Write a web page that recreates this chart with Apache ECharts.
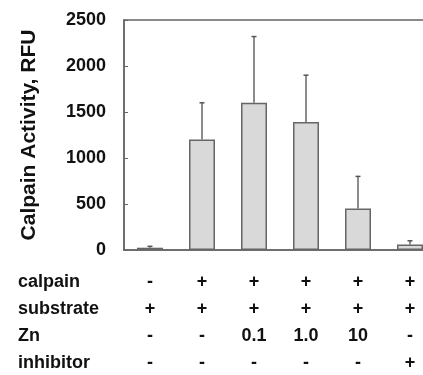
<!DOCTYPE html>
<html><head><meta charset="utf-8">
<script src="https://cdn.jsdelivr.net/npm/echarts@6/dist/echarts.min.js"></script>
<style>html,body{margin:0;padding:0;background:#fff}#c{width:423px;height:375px}</style>
</head><body><div id="c"></div>
<script>
var categories = ['1','2','3','4','5','6'];
var values = [25, 1200, 1600, 1390, 450, 60];
var errorUpper = [40, 1600, 2320, 1900, 800, 100];
var yTicks = [0, 500, 1000, 1500, 2000, 2500];
var rowNames = ['calpain', 'substrate', 'Zn', 'inhibitor'];
var rowCalpain = ['-', '+', '+', '+', '+', '+'];
var rowSubstrate = ['+', '+', '+', '+', '+', '+'];
var rowZn = ['-', '-', '0.1', '1.0', '10', '-'];
var rowInhibitor = ['-', '-', '-', '-', '-', '+'];
var rows = [rowCalpain, rowSubstrate, rowZn, rowInhibitor];

var FONT = '"Liberation Sans", Arial, sans-serif';
var chart = echarts.init(document.getElementById('c'));
var rowOffsets = [15, 42, 69, 96];
var xAxes = [{
  type: 'category', data: categories, gridIndex: 0,
  axisLine: {show: true, lineStyle: {color: '#666', width: 1.5}},
  axisTick: {show: false}, axisLabel: {show: false}
}];
rows.forEach(function (r, i) {
  xAxes.push({
    type: 'category', data: r, gridIndex: 0, position: 'bottom', offset: rowOffsets[i],
    axisLine: {show: false}, axisTick: {show: false},
    axisLabel: {show: true, margin: 8, fontSize: 18, fontWeight: 'bold', color: '#111', fontFamily: FONT}
  });
});
var graphics = rowNames.map(function (n, i) {
  return {type: 'text', left: 18, top: 273 + i * 27,
    style: {text: n, font: 'bold 18px ' + FONT, fill: '#111'}};
});
chart.setOption({
  animation: false,
  grid: {left: 124, top: 20, width: 312, height: 230, outerBoundsMode: 'none', containLabel: false,
    show: true, borderColor: '#666', borderWidth: 1.5, backgroundColor: 'transparent'},
  xAxis: xAxes,
  yAxis: {
    type: 'value', min: 0, max: 2500, interval: 500,
    name: 'Calpain Activity, RFU', nameLocation: 'middle', nameGap: 84, nameRotate: 90,
    nameTextStyle: {fontSize: 21, fontWeight: 'bold', color: '#111', fontFamily: FONT},
    axisLine: {show: true, lineStyle: {color: '#666', width: 1.5}},
    axisTick: {show: true, inside: true, length: 4, lineStyle: {color: '#666'}},
    splitLine: {show: false},
    axisLabel: {margin: 18, fontSize: 18, fontWeight: 'bold', color: '#111', fontFamily: FONT,
      formatter: function (v) { return yTicks.indexOf(v) >= 0 ? String(v) : ''; }}
  },
  graphic: graphics,
  series: [{
    type: 'bar', data: values, barWidth: '50%', xAxisIndex: 0,
    itemStyle: {color: '#d9d9d9', borderColor: '#666', borderWidth: 1.5}
  }, {
    type: 'custom', xAxisIndex: 0,
    data: values.map(function (v, i) { return [i, v, errorUpper[i]]; }),
    renderItem: function (params, api) {
      var lo = api.coord([api.value(0), api.value(1)]);
      var hi = api.coord([api.value(0), api.value(2)]);
      var x = lo[0];
      return {type: 'group', children: [
        {type: 'line', shape: {x1: x, y1: lo[1], x2: x, y2: hi[1]}, style: {stroke: '#666', lineWidth: 1.5}},
        {type: 'line', shape: {x1: x - 2.5, y1: hi[1], x2: x + 2.5, y2: hi[1]}, style: {stroke: '#555', lineWidth: 1.5}}
      ]};
    },
    z: 3
  }]
});
</script></body></html>
